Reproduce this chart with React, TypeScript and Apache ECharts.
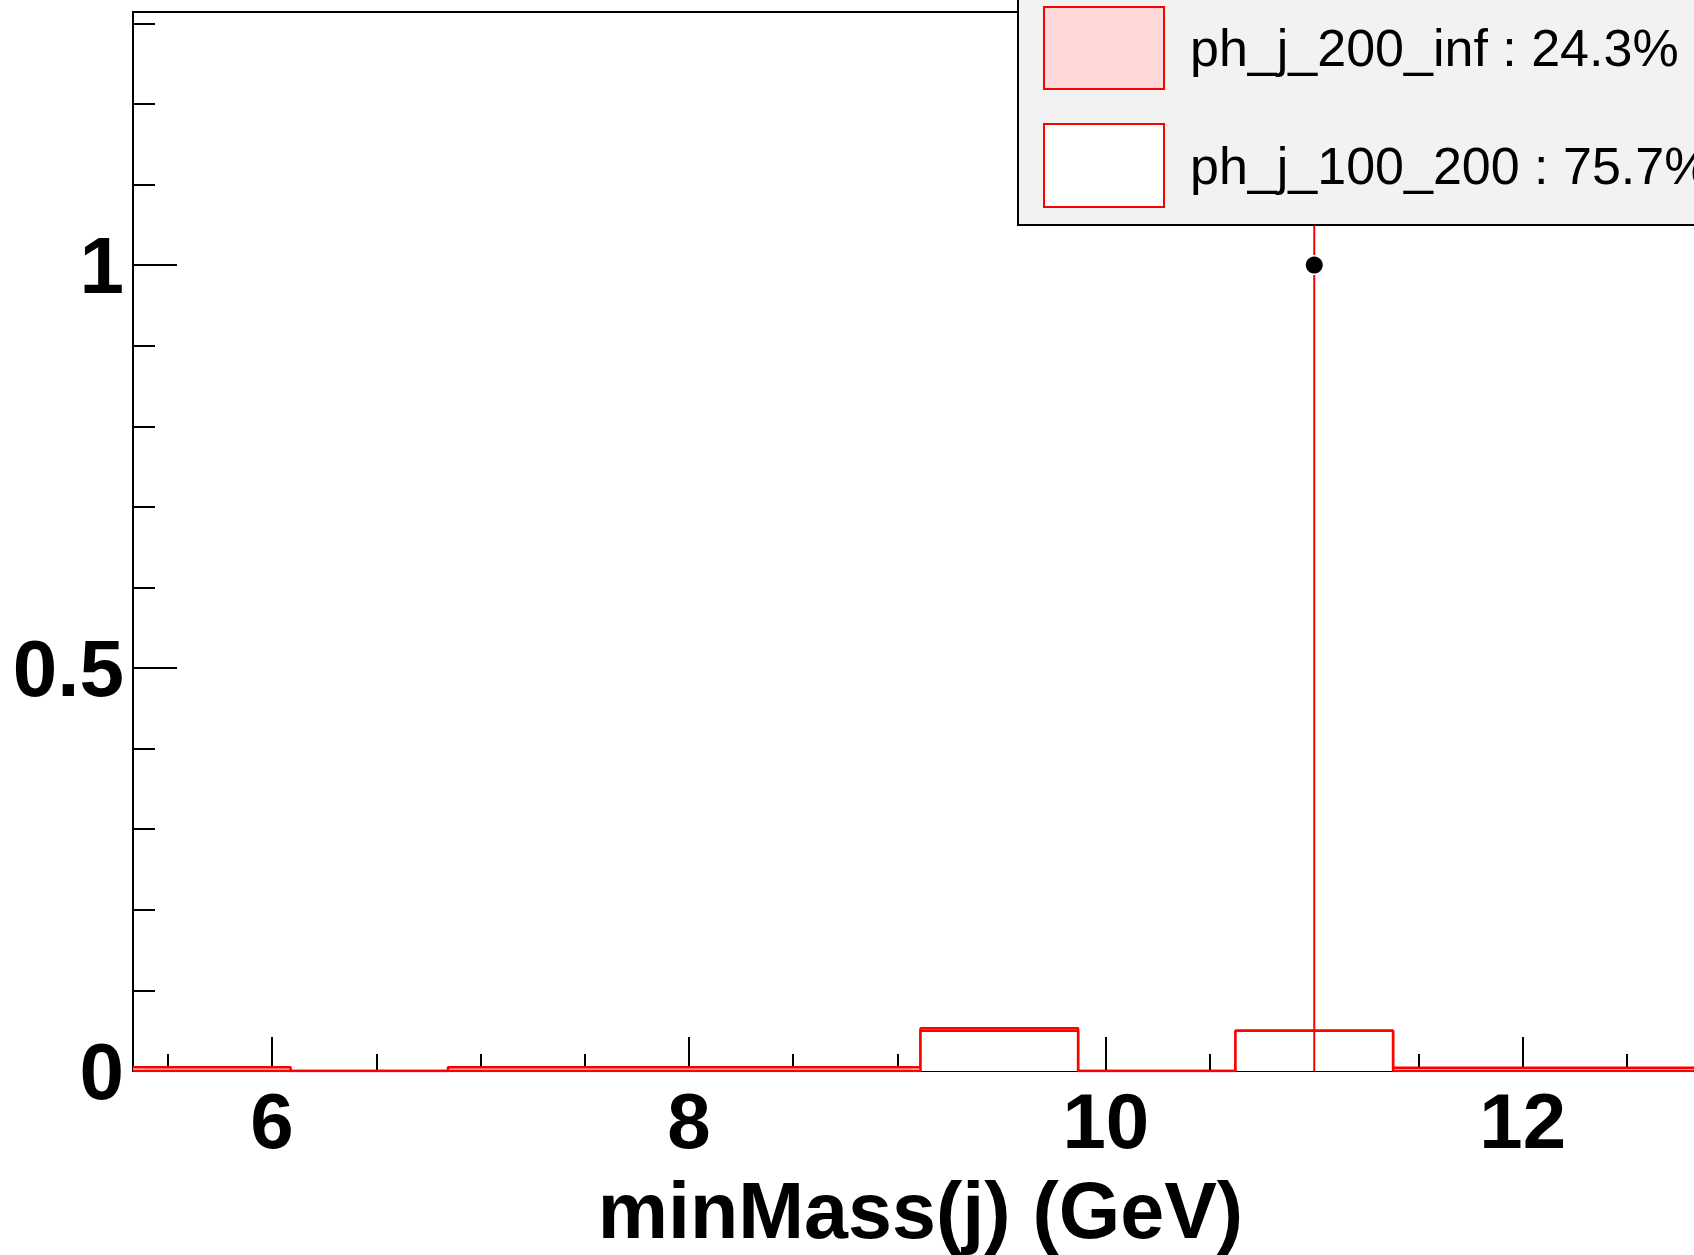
import React, { useEffect, useRef } from "react";
import * as echarts from "echarts";

// ---- data ----
const binEdges = [5.333, 6.089, 6.844, 7.6, 8.356, 9.111, 9.867, 10.622, 11.378, 12.133, 12.889];
const ph_j_200_inf = [0.0045, 0, 0.0045, 0.0045, 0.0045, 0.003, 0, 0, 0.004, 0.004];
const ph_j_100_200 = [0, 0, 0, 0, 0, 0.05, 0, 0.05, 0, 0];
const dataX = [11];
const dataY = [1];
const dataErrLow = [0];
const dataErrHigh = [2];
const legendLabels = ["ph_j_200_inf : 24.3%", "ph_j_100_200 : 75.7%"];
const xMajorTicks = [6, 8, 10, 12];
const xMinorTicks = [5.5, 6.5, 7, 7.5, 8.5, 9, 9.5, 10.5, 11, 11.5, 12.5];
const yMajorTicks = [0, 0.5, 1];
const yMinorTicks = [0.1, 0.2, 0.3, 0.4, 0.6, 0.7, 0.8, 0.9, 1.1, 1.2, 1.3];
const xTitle = "minMass(j) (GeV)";
const xMin = 5.333;
const xMax = 12.889;
const yMin = 0;
const yMax = 1.314;

const FONT = "'Liberation Sans', Arial, Helvetica, sans-serif";

function stepData(values: number[]) {
  const pts: number[][] = values.map((v, i) => [binEdges[i], v]);
  const last = binEdges[binEdges.length - 1];
  pts.push([last, values[values.length - 1]]);
  pts.push([last, 0]);
  return pts;
}

export default function App() {
  const ref = useRef<HTMLDivElement>(null);
  useEffect(() => {
    if (!ref.current) return;
    const chart = echarts.init(ref.current, null, { renderer: "svg" });
    const total = ph_j_200_inf.map((v, i) => v + ph_j_100_200[i]);

    const axisBase = {
      type: "value" as const,
      splitLine: { show: false },
    };

    chart.setOption({
      animation: false,
      backgroundColor: "#ffffff",
      grid: {
        left: 133,
        top: 12,
        width: 1575,
        bottom: 1255 - 1071,
        containLabel: false,
        outerBoundsMode: "none",
        show: true,
        borderColor: "#000",
        borderWidth: 2,
        backgroundColor: "transparent",
      },
      xAxis: [
        {
          ...axisBase,
          min: xMin,
          max: xMax,
          position: "bottom",
          axisLine: { show: true, lineStyle: { color: "#000", width: 2 } },
          axisTick: {
            show: true,
            inside: true,
            length: 34,
            customValues: xMajorTicks,
            lineStyle: { color: "#000", width: 2 },
          },
          axisLabel: {
            show: true,
            customValues: xMajorTicks,
            margin: 11,
            fontSize: 78,
            fontWeight: "bold",
            fontFamily: FONT,
            color: "#000",
          },
          name: xTitle,
          nameLocation: "middle",
          nameGap: 100,
          nameTextStyle: {
            fontSize: 79,
            fontWeight: "bold",
            fontFamily: FONT,
            color: "#000",
          },
        },
        {
          ...axisBase,
          min: xMin,
          max: xMax,
          position: "bottom",
          axisLine: { show: false },
          axisTick: {
            show: true,
            inside: true,
            length: 17,
            customValues: xMinorTicks,
            lineStyle: { color: "#000", width: 2 },
          },
          axisLabel: { show: false },
        },
      ],
      yAxis: [
        {
          ...axisBase,
          min: yMin,
          max: yMax,
          position: "left",
          axisLine: { show: true, lineStyle: { color: "#000", width: 2 } },
          axisTick: {
            show: true,
            inside: true,
            length: 44,
            customValues: yMajorTicks,
            lineStyle: { color: "#000", width: 2 },
          },
          axisLabel: {
            show: true,
            customValues: yMajorTicks,
            margin: 9,
            padding: [11, 0, 0, 0],
            fontSize: 80,
            fontWeight: "bold",
            fontFamily: FONT,
            color: "#000",
          },
        },
        {
          ...axisBase,
          min: yMin,
          max: yMax,
          position: "left",
          axisLine: { show: false },
          axisTick: {
            show: true,
            inside: true,
            length: 22,
            customValues: yMinorTicks,
            lineStyle: { color: "#000", width: 2 },
          },
          axisLabel: { show: false },
        },
      ],
      series: [
        {
          name: "ph_j_200_inf",
          type: "line",
          xAxisIndex: 0,
          yAxisIndex: 0,
          step: "end",
          symbol: "none",
          data: stepData(total),
          lineStyle: { color: "#ff0000", width: 2.5 },
          areaStyle: { color: "#ffd9d9", opacity: 1 },
          z: 2,
        },
        {
          name: "ph_j_100_200",
          type: "line",
          xAxisIndex: 0,
          yAxisIndex: 0,
          step: "end",
          symbol: "none",
          data: stepData(ph_j_100_200),
          lineStyle: { color: "#ff0000", width: 2.5 },
          areaStyle: { color: "#ffffff", opacity: 1 },
          z: 3,
        },
        {
          name: "data_err",
          type: "custom",
          xAxisIndex: 0,
          yAxisIndex: 0,
          clip: true,
          encode: { x: 0, y: 1 },
          data: dataX.map((x, i) => [x, dataY[i], dataErrLow[i], dataErrHigh[i]]),
          renderItem: (params: any, api: any) => {
            const x = api.value(0);
            const y = api.value(1);
            const lo = api.value(2);
            const hi = api.value(3);
            const pLo = api.coord([x, lo]);
            const pY = api.coord([x, y]);
            const pHi = api.coord([x, hi]);
            const gap = 10;
            return {
              type: "group",
              children: [
                {
                  type: "line",
                  shape: { x1: pLo[0], y1: pLo[1], x2: pY[0], y2: pY[1] + gap },
                  style: { stroke: "#ff0000", lineWidth: 2 },
                },
                {
                  type: "line",
                  shape: { x1: pY[0], y1: pY[1] - gap, x2: pHi[0], y2: pHi[1] },
                  style: { stroke: "#ff0000", lineWidth: 2 },
                },
              ],
            };
          },
          z: 4,
        },
        {
          name: "data",
          type: "scatter",
          xAxisIndex: 0,
          yAxisIndex: 0,
          symbol: "circle",
          symbolSize: 17,
          itemStyle: { color: "#000", opacity: 1 },
          data: dataX.map((x, i) => [x, dataY[i]]),
          z: 5,
        },
      ],
      graphic: [
        {
          type: "rect",
          z: 100,
          shape: { x: 1018, y: -10, width: 800, height: 235 },
          style: { fill: "#f2f2f2", stroke: "#000", lineWidth: 2 },
        },
        {
          type: "rect",
          z: 101,
          shape: { x: 1044, y: 7, width: 120, height: 82 },
          style: { fill: "#ffd9d9", stroke: "#ff0000", lineWidth: 2 },
        },
        {
          type: "rect",
          z: 101,
          shape: { x: 1044, y: 124, width: 120, height: 83 },
          style: { fill: "#ffffff", stroke: "#ff0000", lineWidth: 2 },
        },
        {
          type: "text",
          z: 101,
          x: 1190,
          y: 48,
          style: {
            text: legendLabels[0],
            fontSize: 52,
            fontFamily: FONT,
            fill: "#000",
            verticalAlign: "middle",
            align: "left",
          },
        },
        {
          type: "text",
          z: 101,
          x: 1190,
          y: 166,
          style: {
            text: legendLabels[1],
            fontSize: 52,
            fontFamily: FONT,
            fill: "#000",
            verticalAlign: "middle",
            align: "left",
          },
        },
      ],
    });
    return () => chart.dispose();
  }, []);
  return (
    <div
      ref={ref}
      style={{ position: "fixed", left: 0, top: 0, width: 1694, height: 1255, background: "#fff" }}
    />
  );
}
